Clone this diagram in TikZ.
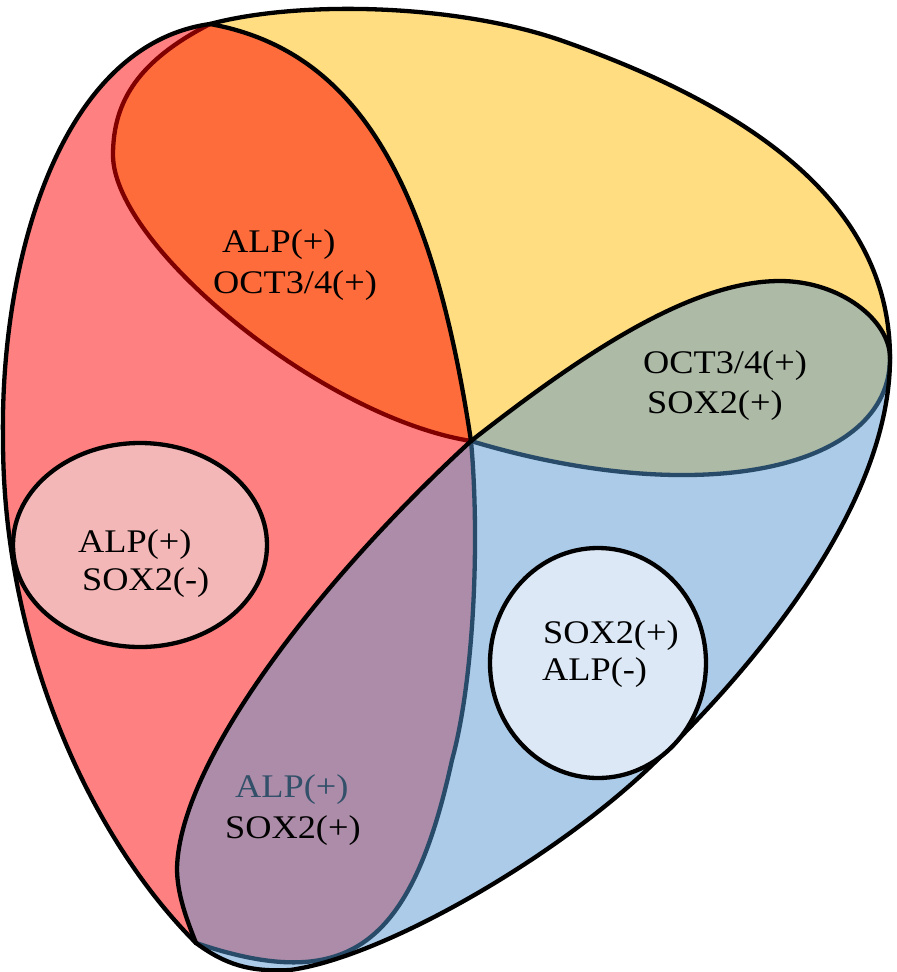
\documentclass[tikz,border=0pt]{standalone}
\usepackage{fontspec}
\setmainfont{Liberation Serif}[FakeStretch=1.1]
\usepackage{xcolor}
\definecolor{cRed}{RGB}{255,128,128}
\definecolor{cYel}{RGB}{255,221,128}
\definecolor{cBlu}{RGB}{171,203,232}
\definecolor{cOra}{RGB}{255,108,60}
\definecolor{cGrn}{RGB}{172,186,166}
\definecolor{cPur}{RGB}{172,140,168}
\definecolor{cPink}{RGB}{244,183,183}
\definecolor{cLite}{RGB}{220,232,245}
\definecolor{cDRed}{RGB}{128,0,0}
\definecolor{cDBlu}{RGB}{40,75,105}
\definecolor{cTxtB}{RGB}{50,80,105}
\begin{document}
\begin{tikzpicture}[x=1pt,y=-1pt,
  bnd/.style={line width=4.3pt,line cap=round,line join=round},
  lbl/.style={anchor=base west,inner sep=0pt,font=\fontsize{33}{38}\selectfont}]
\useasboundingbox (0,0) rectangle (897,972);
\coordinate (T) at (210,24);
\coordinate (C) at (471,441);
\coordinate (R) at (890,358);
\coordinate (B) at (196,943);
% curve pieces (forward direction)
\def\outerRed{(T) .. controls (60,45) and (0,260) .. (3,440) .. controls (3,640) and (86,833) .. (B)}
\def\outerYel{(T) .. controls (300,0) and (455,4) .. (560,40) .. controls (760,110) and (890,208) .. (R)}
\def\outerBlu{(R) .. controls (890,508) and (750,672) .. (650,767) .. controls (550,862) and (380,958) .. (290,970) .. controls (250,972) and (226,965) .. (B)}
\def\redRightFwd{(T) .. controls (353,50) and (431,175) .. (C)}
\def\redRightRev{(C) .. controls (431,175) and (353,50) .. (T)}
\def\yelLeftFwd{(T) .. controls (140,60) and (113,100) .. (113,155) .. controls (113,245) and (321,417) .. (C)}
\def\yelLeftRev{(C) .. controls (321,417) and (113,245) .. (113,155) .. controls (113,100) and (140,60) .. (T)}
\def\yelBotFwd{(C) .. controls (700,510) and (890,470) .. (R)}
\def\yelBotRev{(R) .. controls (890,470) and (700,510) .. (C)}
\def\bluTopFwd{(C) .. controls (581,355) and (690,281) .. (780,281) .. controls (840,281) and (890,320) .. (R)}
\def\bluLeftFwd{(B) .. controls (186,918) and (177,893) .. (177,868) .. controls (180,760) and (321,579) .. (C)}
\def\redBotFwd{(C) .. controls (480,540) and (474,680) .. (452,760) .. controls (411,948) and (347,994) .. (B)}
\def\redBotRev{(B) .. controls (347,994) and (411,948) .. (452,760) .. controls (474,680) and (480,540) .. (C)}
% ---- set fills
\fill[cRed] \outerRed -- \redBotRev -- \redRightRev -- cycle;
\fill[cYel] \outerYel -- \yelBotRev -- \yelLeftRev -- cycle;
\fill[cBlu] \outerBlu -- \bluLeftFwd -- \bluTopFwd -- cycle;
% ---- lens fills
\fill[cOra] \yelLeftFwd -- \redRightRev -- cycle;
\fill[cGrn] \bluTopFwd -- \yelBotRev -- cycle;
\fill[cPur] \bluLeftFwd -- \redBotFwd -- cycle;
% ---- coloured boundaries
\draw[bnd,cDRed] \yelLeftFwd;
\draw[bnd,cDBlu] \yelBotFwd;
\draw[bnd,cDBlu] \redBotFwd;
% ---- black boundaries
\draw[bnd,black] \redRightFwd;
\draw[bnd,black] \bluLeftFwd;
\draw[bnd,black] \bluTopFwd;
\draw[bnd,black] \outerRed;
\draw[bnd,black] \outerYel;
\draw[bnd,black] \outerBlu;
% ---- inner ellipses
\draw[bnd,fill=cPink] (140,545) ellipse [x radius=127, y radius=102];
\draw[bnd,fill=cLite] (598,663) ellipse [x radius=108, y radius=115];
% ---- labels
\node[lbl] (oa) at (222,252) {ALP(+)};
\node[lbl] (ob) at (213,293) {OCT3/4(+)};
\node[lbl] (ga) at (643,373) {OCT3/4(+)};
\node[lbl] (gb) at (647,413) {SOX2(+)};
\node[lbl] (pa) at (78,552) {ALP(+)};
\node[lbl] (pb) at (82,590) {SOX2(-)};
\node[lbl,text=cTxtB] (ua) at (235,797) {ALP(+)};
\node[lbl] (ub) at (225,838) {SOX2(+)};
\node[lbl] (la) at (543,643) {SOX2(+)};
\node[lbl] (lb) at (542,680) {ALP(-)};
\end{tikzpicture}
\end{document}
